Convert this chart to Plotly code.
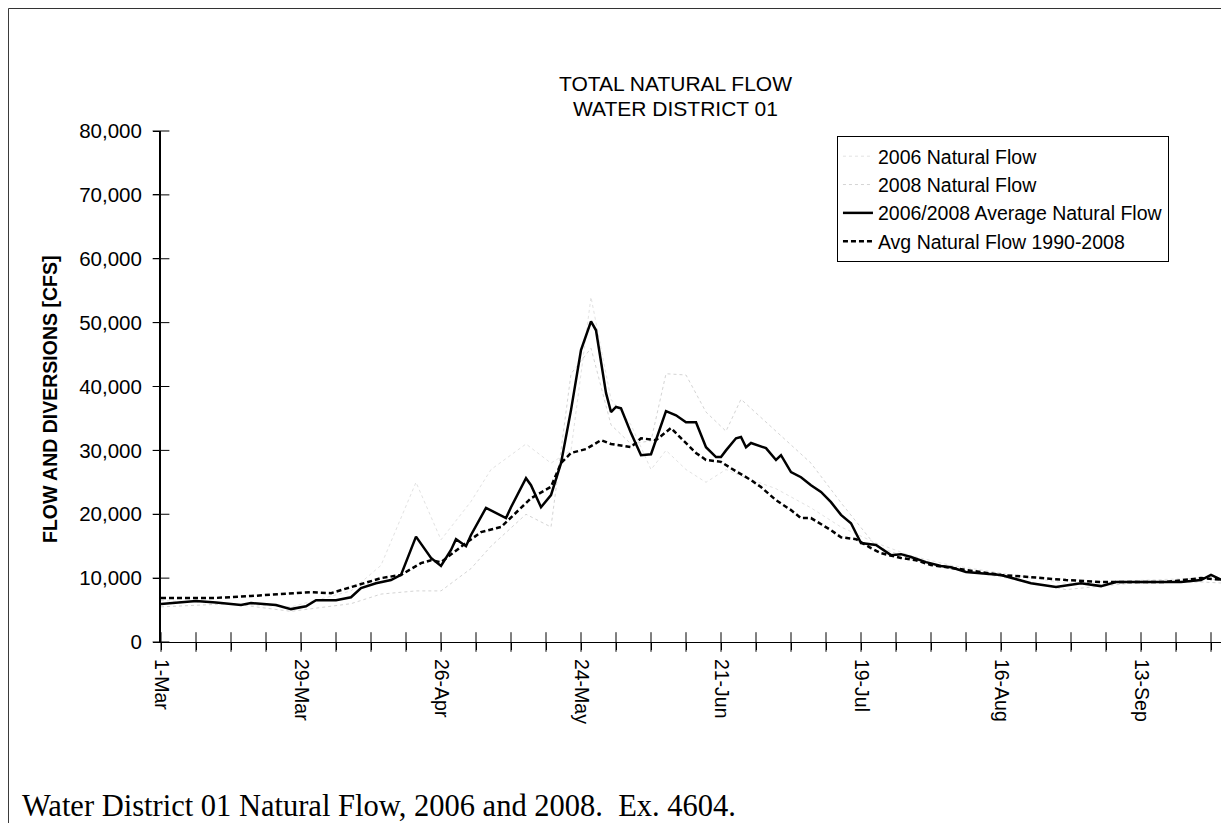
import pandas as pd
import plotly.graph_objects as go

# flows in cfs, x given as days after 1-Mar
avg_days = [0, 7, 11, 16, 18, 23, 26, 29, 31, 35, 38, 40, 43, 46, 48, 51, 54, 56, 58, 59,
            61, 62, 65, 69, 70, 73, 74, 76, 78, 80, 82, 84, 86, 87, 89, 90, 91, 92, 94, 96,
            98, 101, 103, 105, 107, 109, 111, 112, 113, 115, 116, 117, 118, 121, 123, 124, 126, 128, 130, 132,
            134, 136, 138, 140, 143, 144, 146, 148, 150, 153, 156, 158, 161, 168, 174, 179, 184, 188, 191, 198,
            204, 208, 210, 213]
avg_flow = [5950, 6400, 6200, 5800, 6100, 5800, 5150, 5600, 6550, 6550, 7000, 8450, 9200, 9700, 10500, 16500, 13150, 11900, 14400, 16100,
            15000, 16750, 21000, 19400, 21100, 25650, 24550, 21100, 23000, 28000, 36300, 45700, 50200, 48800, 39000, 36000, 36800, 36600, 32700, 29250,
            29400, 36150, 35500, 34400, 34400, 30500, 28950, 28950, 30000, 31900, 32100, 30500, 31150, 30350, 28500, 29250, 26600, 25800, 24550, 23500,
            21900, 19900, 18600, 15500, 15200, 14700, 13600, 13750, 13300, 12500, 11900, 11700, 10950, 10500, 9200, 8600, 9200, 8750, 9400, 9400,
            9400, 9700, 10500, 9400]

hist_days = [0, 11, 18, 24, 30, 34, 38, 44, 48, 52, 54, 56, 61, 64, 68, 71, 74, 78, 80, 82,
             84, 85, 88, 90, 94, 96, 99, 102, 104, 107, 109, 112, 114, 118, 120, 123, 126, 128, 130, 134,
             136, 139, 142, 144, 148, 151, 154, 158, 161, 168, 174, 181, 188, 194, 201, 208, 213]
hist_flow = [6900, 6900, 7200, 7500, 7800, 7650, 8600, 10000, 10500, 12350, 12800, 12500, 15500, 17200, 18000, 20200, 22500, 24300, 28000, 29600,
             30000, 30200, 31600, 31000, 30500, 31900, 31600, 33500, 31900, 29600, 28500, 28200, 27200, 25350, 24250, 22200, 20650, 19400, 19400, 17500,
             16400, 16100, 14700, 13900, 13150, 12800, 12050, 11600, 11250, 10500, 10150, 9700, 9400, 9400, 9400, 10000, 9700]

# the single years are barely visible in the scan
year_days = [0, 14, 26, 38, 44, 51, 56, 62, 66, 73, 78, 82, 86, 90, 94, 98, 101, 105, 109, 113,
             116, 123, 130, 136, 143, 150, 158, 168, 181, 194, 208, 213]
flow_2006 = [6500, 6000, 5500, 8000, 12000, 25000, 16000, 22000, 27000, 31000, 28000, 30000, 54000, 38000, 34000, 27000, 30000, 27000, 25000, 27000,
             26000, 24000, 21000, 18000, 15500, 13500, 12000, 10800, 9200, 9600, 10000, 9600]
flow_2008 = [5500, 6000, 4800, 6000, 7500, 8000, 8000, 11500, 15000, 20000, 18000, 42000, 46000, 34000, 31000, 31500, 42000, 41800, 36000, 33000,
             38000, 33000, 28000, 21800, 15000, 13000, 11400, 10200, 8200, 9200, 9400, 9200]

x_labels = ["1-Mar", "29-Mar", "26-Apr", "24-May", "21-Jun", "19-Jul", "16-Aug", "13-Sep"]
y_ticks = [0, 10000, 20000, 30000, 40000, 50000, 60000, 70000, 80000]

start = pd.Timestamp("2006-03-01")
end = pd.Timestamp("2006-09-29")


def to_dates(days):
    return start + pd.to_timedelta(days, unit="D")


week_ticks = pd.date_range(start, end, freq="7D")
week_text = []
for i in range(len(week_ticks)):
    if i % 4 == 0 and i // 4 < len(x_labels):
        week_text.append(x_labels[i // 4])
    else:
        week_text.append("")

fig = go.Figure()

fig.add_trace(go.Scatter(x=to_dates(year_days), y=flow_2006, mode="lines", name="2006 Natural Flow",
                         line=dict(color="#e2e2e2", width=1, dash="dot")))
fig.add_trace(go.Scatter(x=to_dates(year_days), y=flow_2008, mode="lines", name="2008 Natural Flow",
                         line=dict(color="#d4d4d4", width=1, dash="dot")))
fig.add_trace(go.Scatter(x=to_dates(avg_days), y=avg_flow, mode="lines", name="2006/2008 Average Natural Flow",
                         line=dict(color="black", width=2.5)))
fig.add_trace(go.Scatter(x=to_dates(hist_days), y=hist_flow, mode="lines", name="Avg Natural Flow 1990-2008",
                         line=dict(color="black", width=2.5, dash="5px,3px")))

# Excel-style tick marks that cross the axis lines
fig.add_trace(go.Scatter(x=week_ticks, y=[0] * len(week_ticks), mode="markers", cliponaxis=False,
                         marker=dict(symbol="line-ns", size=14, line=dict(width=1, color="black")),
                         showlegend=False, hoverinfo="skip"))
fig.add_trace(go.Scatter(x=[start] * len(y_ticks), y=y_ticks, mode="markers", cliponaxis=False,
                         marker=dict(symbol="line-ew", size=12, line=dict(width=1, color="black")),
                         showlegend=False, hoverinfo="skip"))

fig.update_layout(
    width=1213, height=815,
    margin=dict(l=153, r=0, t=123, b=181),
    paper_bgcolor="white", plot_bgcolor="white",
    font=dict(family="Liberation Sans, Arial", size=19, color="black"),
    legend=dict(x=0.6377, y=0.9902, xanchor="left", yanchor="top",
                bordercolor="black", borderwidth=1, bgcolor="white",
                font=dict(size=19.5)),
    xaxis=dict(type="date", range=[start, end], tickmode="array", tickvals=week_ticks, ticktext=week_text,
               tickangle=90, ticks="outside", ticklen=7, tickcolor="black", tickwidth=1,
               showline=True, linecolor="black", linewidth=1, showgrid=False, zeroline=False,
               ticklabelstandoff=5, tickfont=dict(size=19.5)),
    yaxis=dict(range=[0, 80000], tickmode="array", tickvals=y_ticks, tickformat=",",
               ticks="outside", ticklen=6, tickcolor="black", tickwidth=1,
               showline=True, linecolor="black", linewidth=2, showgrid=False, zeroline=False,
               ticklabelstandoff=7, tickfont=dict(size=20.5)),
)

fig.add_annotation(text="TOTAL NATURAL FLOW", xref="paper", yref="paper", x=0.4858, y=1.092,
                   xanchor="center", yanchor="middle", showarrow=False, font=dict(size=21))
fig.add_annotation(text="WATER DISTRICT 01", xref="paper", yref="paper", x=0.4858, y=1.045,
                   xanchor="center", yanchor="middle", showarrow=False, font=dict(size=21))
fig.add_annotation(text="<b>FLOW AND DIVERSIONS [CFS]</b>", xref="paper", yref="paper", x=-0.1047, y=0.4736,
                   xanchor="center", yanchor="middle", textangle=-90, showarrow=False, font=dict(size=19.5))
fig.add_annotation(text="Water District 01 Natural Flow, 2006 and 2008.  Ex. 4604.", xref="paper", yref="paper",
                   x=-0.133, y=-0.321, xanchor="left", yanchor="middle", showarrow=False,
                   font=dict(family="Liberation Serif, Times New Roman", size=30.5))

# scanned page frame (left and top edges)
fig.add_shape(type="rect", xref="paper", yref="paper", x0=-0.1439, y0=-0.5, x1=1.05, y1=1.2397,
              line=dict(color="#333333", width=1))

fig.write_html("out.html")
